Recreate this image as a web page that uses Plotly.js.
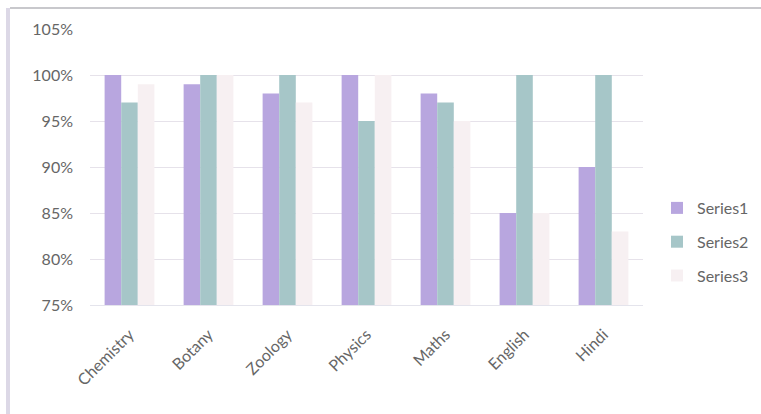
<!DOCTYPE html>
<html>
<head>
<meta charset="utf-8">
<script src="https://cdn.plot.ly/plotly-3.0.1.min.js"></script>
<style>
html,body{margin:0;padding:0;background:#fff;}
#chart{width:761px;height:414px;}
</style>
</head>
<body>
<div id="chart"></div>
<script>
const categories = ["Chemistry", "Botany", "Zoology", "Physics", "Maths", "English", "Hindi"];
const series1 = [1.00, 0.99, 0.98, 1.00, 0.98, 0.85, 0.90];
const series2 = [0.97, 1.00, 1.00, 0.95, 0.97, 1.00, 1.00];
const series3 = [0.99, 1.00, 0.97, 1.00, 0.95, 0.85, 0.83];
const seriesNames = ["Series1", "Series2", "Series3"];
const tickVals = [0.75, 0.80, 0.85, 0.90, 0.95, 1.00, 1.05];
const tickText = ["75%", "80%", "85%", "90%", "95%", "100%", "105%"];

const colors = ["#b8a6df", "#a6c6c8", "#f7f0f2"];
const data = [series1, series2, series3].map((vals, i) => ({
  type: "bar",
  name: seriesNames[i],
  legendgroup: seriesNames[i],
  x: categories,
  y: vals.map(v => v - 0.75),
  base: 0.75,
  marker: {color: colors[i], line: {width: 0}},
  hoverinfo: "x+y"
}));

const L = 90, R = 643, T = 29, B = 305;
const px = v => (v - L) / (R - L);
const py = v => (B - v) / (B - T);

const layout = {
  width: 761, height: 414,
  margin: {l: L, r: 761 - R, t: T, b: 414 - B, autoexpand: false},
  paper_bgcolor: "#ffffff",
  plot_bgcolor: "#ffffff",
  barmode: "group",
  bargap: 0.37,
  bargroupgap: 0,
  font: {family: "Lato, 'Open Sans', sans-serif", size: 16, color: "#666666"},
  xaxis: {
    type: "category",
    tickangle: -45,
    showgrid: false,
    showline: true,
    linecolor: "#e4e4ec",
    linewidth: 1,
    ticks: "",
    ticklabelstandoff: 13,
    automargin: false,
    tickfont: {size: 16, color: "#666666"}
  },
  yaxis: {
    range: [0.75, 1.05],
    tickvals: tickVals,
    ticktext: tickText,
    showgrid: true,
    gridcolor: "#e6e2ea",
    gridwidth: 1,
    zeroline: false,
    showline: false,
    ticks: "",
    ticklabelstandoff: 16,
    automargin: false,
    tickfont: {size: 16, color: "#666666"}
  },
  legend: {
    x: px(657), y: py(191), xanchor: "left", yanchor: "top",
    tracegroupgap: 10,
    traceorder: "grouped",
    itemwidth: 30,
    font: {size: 16, color: "#666666"},
    bgcolor: "rgba(0,0,0,0)"
  },
  shapes: [
    {type: "line", xref: "paper", yref: "paper", x0: px(10), x1: px(761), y0: py(8), y1: py(8),
     line: {color: "#c8c8cc", width: 2}},
    {type: "line", xref: "paper", yref: "paper", x0: px(8), x1: px(8), y0: py(8), y1: py(414),
     line: {color: "#dcd8e6", width: 4}}
  ],
  showlegend: true
};

Plotly.newPlot("chart", data, layout, {displayModeBar: false, staticPlot: true});
</script>
</body>
</html>
